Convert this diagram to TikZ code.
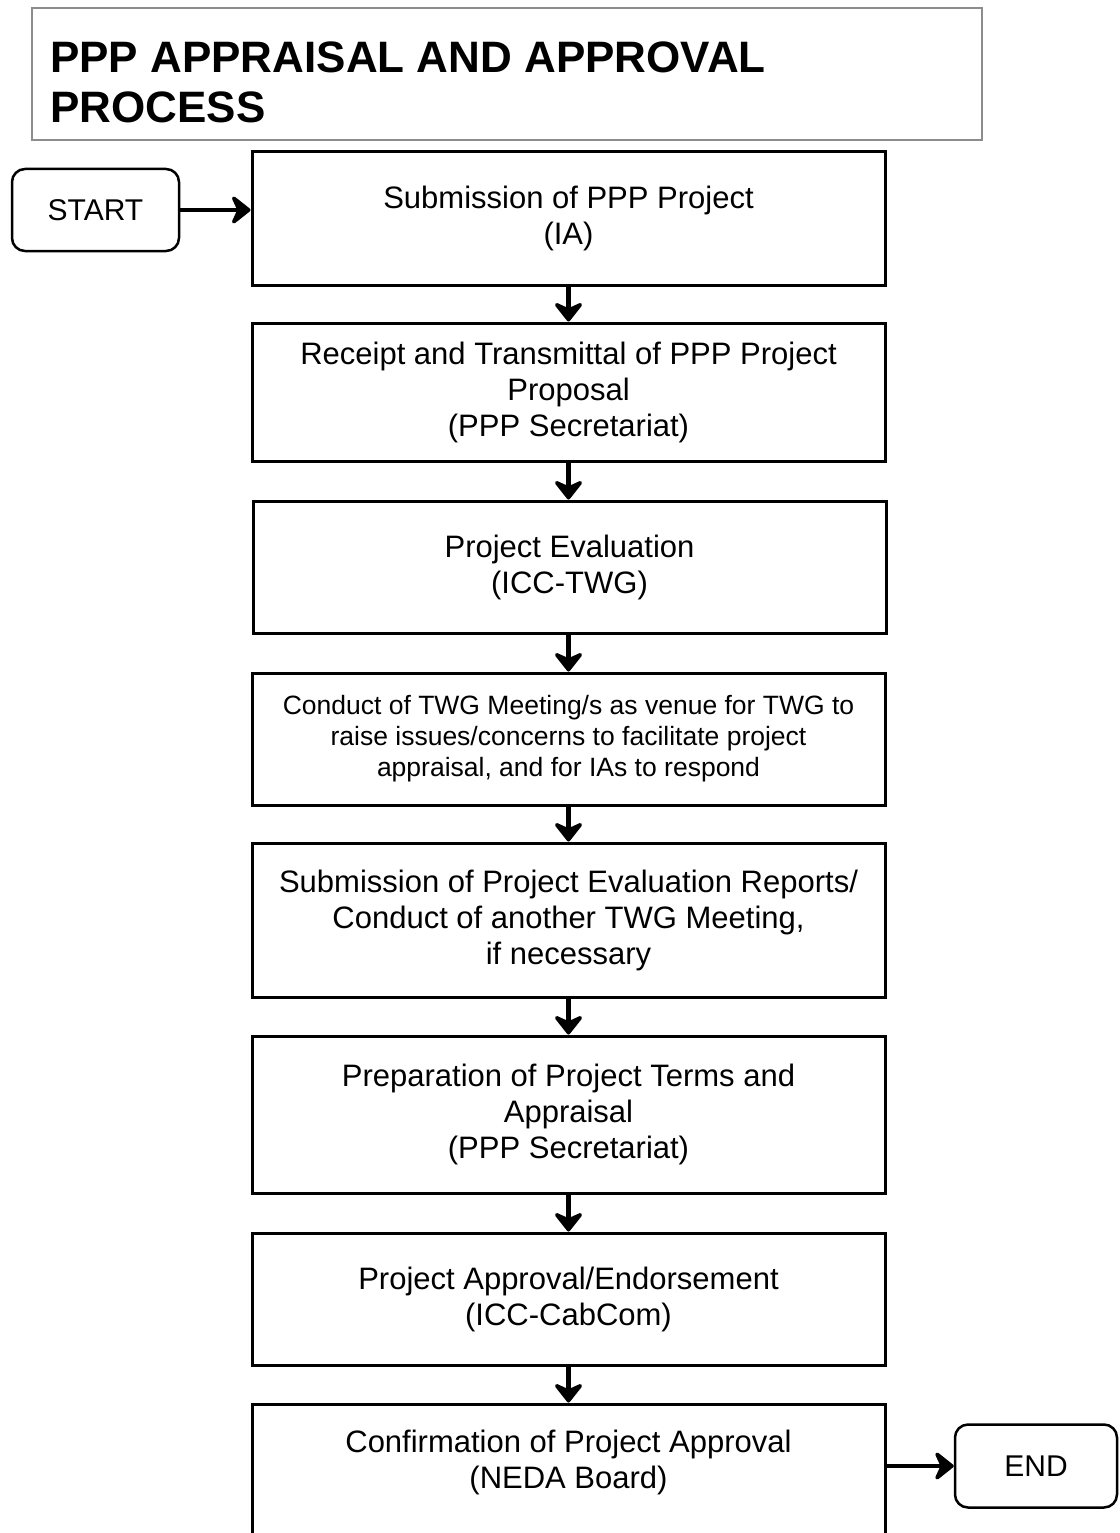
\documentclass[tikz,border=0pt]{standalone}
\usepackage{fontspec}
\setmainfont{Liberation Sans}
\usetikzlibrary{arrows.meta}
\tikzset{
  stepbox/.style={draw, line width=3pt, minimum width=633pt, align=center, inner sep=0pt, font=\fontsize{31}{36}\selectfont},
  smalltext/.style={font=\fontsize{26.5}{31}\selectfont},
  term/.style={draw, line width=2.5pt, rounded corners=13pt, align=center, inner sep=0pt, font=\fontsize{30}{36}\selectfont},
  flow/.style={line width=4.5pt, arrows={-Stealth[length=14pt,width=22pt,inset=5pt,scale=1.6,round]}}
}
\begin{document}
\begin{tikzpicture}[x=1pt,y=-1pt]
\useasboundingbox (0,0) rectangle (1119,1533);
% title
\node[draw=black!45, line width=2pt, minimum width=950pt, minimum height=132pt] (titlebox) at (507,74) {};
\node[anchor=north west, inner sep=0pt, align=left, font=\bfseries\fontsize{44}{50}\selectfont] (title) at (50,42) {PPP APPRAISAL AND APPROVAL\\PROCESS};
% steps
\node[stepbox, minimum height=133pt] (b1) at (568.5,218.5) {Submission of PPP Project\\(IA)};
\node[stepbox, minimum height=138pt] (b2) at (568.5,392) {Receipt and Transmittal of PPP Project\\Proposal\\(PPP Secretariat)};
\node[stepbox, minimum height=132pt] (b3) at (569.5,567) {Project Evaluation\\(ICC-TWG)};
\node[stepbox, smalltext, minimum height=132pt] (b4) at (568.5,739) {Conduct of TWG Meeting/s as venue for TWG to\\raise issues/concerns to facilitate project\\appraisal, and for IAs to respond};
\node[stepbox, minimum height=154pt] (b5) at (568.5,920) {Submission of Project Evaluation Reports/\\Conduct of another TWG Meeting,\\if necessary};
\node[stepbox, minimum height=157pt] (b6) at (568.5,1114.5) {Preparation of Project Terms and\\Appraisal\\(PPP Secretariat)};
\node[stepbox, minimum height=132pt] (b7) at (568.5,1299) {Project Approval/Endorsement\\(ICC-CabCom)};
\node[stepbox, minimum height=160pt] (b8) at (568.5,1484) {};
\node[align=center, inner sep=0pt, font=\fontsize{31}{36}\selectfont] (b8text) at (568.5,1462) {Confirmation of Project Approval\\(NEDA Board)};
% terminals
\node[term, minimum width=167pt, minimum height=82pt] (start) at (95.5,210) {START};
\node[term, minimum width=162pt, minimum height=83pt] (end) at (1036,1466) {END};
% connectors
\draw[flow] (start.east) -- (start.east -| b1.west);
\draw[flow] (b1) -- (b2);
\draw[flow] (b2) -- (b3.north -| b2.south);
\draw[flow] (b3.south -| b2.south) -- (b4);
\draw[flow] (b4) -- (b5);
\draw[flow] (b5) -- (b6);
\draw[flow] (b6) -- (b7);
\draw[flow] (b7) -- (b8.north);
\draw[flow] (end.west -| b8.east) -- (end.west);
\end{tikzpicture}
\end{document}
